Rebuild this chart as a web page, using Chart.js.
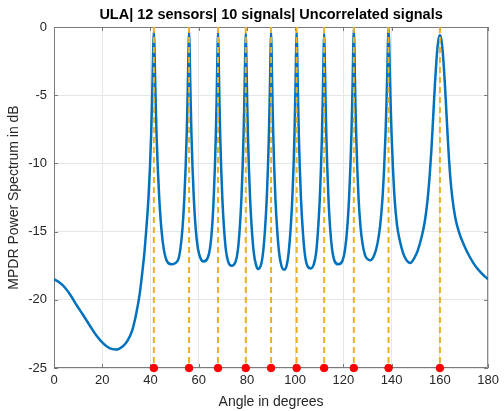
<!DOCTYPE html>
<html lang="en">
<head>
    <meta charset="UTF-8">
    <title>MPDR spectrum</title>
    <script src="https://cdn.jsdelivr.net/npm/chart.js"></script>
    <style>
        body { margin: 0; background: #fff; }
        .chart-box { width: 504px; height: 411px; }
    </style>
</head>
<body>
    <div class="chart-box">
        <canvas id="mpdrChart"></canvas>
    </div>

<script>
    // tick values for both axes
    const xTicks = [0, 20, 40, 60, 80, 100, 120, 140, 160, 180];
    const yTicks = [-25, -20, -15, -10, -5, 0];

    // true directions of arrival (degrees)
    const doaAngles = [41.4, 56, 68, 79.5, 90, 100.6, 112, 124.3, 138.7, 160];

    // spectrum: angle (deg) and power (dB), one row per peak side
    const specAngle = [
        0, 2, 4.5, 7, 9.4, 12, 14.9, 17.5, 20.4, 23, 25.6, 28.6, 30.5, 32.5, 34.1, 35.5, 36.6, 37.5, 38.28, 39.15, 39.78, 40.28, 40.65, 40.9, 41.15,
        41.4, 41.65, 41.9, 42.15, 42.52, 43.02, 43.65, 44.52, 45.52, 46.65, 48.6,
        51.38, 52.37, 53.25, 54.02, 54.57, 55.01, 55.34, 55.56, 55.78,
        56, 56.22, 56.44, 56.66, 56.99, 57.43, 57.98, 58.75, 59.63, 60.62, 61.9,
        63.8, 64.7, 65.5, 66.2, 66.7, 67.1, 67.4, 67.6, 67.8,
        68, 68.2, 68.4, 68.6, 68.9, 69.3, 69.8, 70.5, 71.3, 72.2, 73.6,
        75.3, 76.2, 77.0, 77.7, 78.2, 78.6, 78.9, 79.1, 79.3,
        79.5, 79.7, 79.9, 80.1, 80.4, 80.8, 81.3, 82.0, 82.8, 83.7, 84.6,
        85.8, 86.7, 87.5, 88.2, 88.7, 89.1, 89.4, 89.6, 89.8,
        90, 90.2, 90.4, 90.6, 90.9, 91.3, 91.8, 92.5, 93.3, 94.2, 95.4,
        96.5, 97.3, 98.1, 98.8, 99.3, 99.7, 100.0, 100.2, 100.4,
        100.6, 100.8, 101.0, 101.2, 101.5, 101.9, 102.4, 103.1, 103.9, 104.8, 106.4,
        107.8, 108.7, 109.5, 110.2, 110.7, 111.1, 111.4, 111.6, 111.8,
        112, 112.2, 112.4, 112.6, 112.9, 113.3, 113.8, 114.5, 115.3, 116.2, 117.9,
        119.68, 120.67, 121.55, 122.32, 122.87, 123.31, 123.64, 123.86, 124.08,
        124.3, 124.52, 124.74, 124.96, 125.29, 125.73, 126.28, 127.05, 127.93, 128.92, 129.9, 131.2,
        132.82, 134.08, 135.2, 136.18, 136.88, 137.44, 137.86, 138.14, 138.42,
        138.7, 138.98, 139.26, 139.54, 139.96, 140.52, 141.22, 142.2, 143.3, 144.6, 146.0, 147.7,
        149.2, 150.8, 152.4, 153.7, 154.8, 155.7, 156.4, 157.0, 157.5, 158.0, 158.5, 159.0, 159.5,
        160, 160.5, 161.0, 161.5, 162.0, 162.5, 163.0, 163.6, 164.3, 165.2, 166.4, 168.0, 170.0, 172.5, 175, 177.5, 180
    ];
    const specDb = [
        -18.5, -18.7, -19.1, -19.7, -20.4, -21.1, -21.9, -22.6, -23.2, -23.55, -23.65, -23.4, -23.0, -22.2, -21.0, -19.6, -18.0, -16.5, -14.8, -12.6, -10.3, -7.9, -5.5, -3.6, -1.5,
        -0.3, -1.5, -3.6, -5.5, -7.9, -10.3, -12.6, -14.8, -16.3, -17.1, -17.4,
        -17.1, -16.3, -14.8, -12.6, -10.3, -7.9, -5.5, -3.6, -1.5,
        -0.3, -1.5, -3.6, -5.5, -7.9, -10.3, -12.6, -14.8, -16.2, -16.9, -17.2,
        -16.9, -16.2, -14.8, -12.6, -10.3, -7.9, -5.5, -3.6, -1.6,
        -0.4, -1.6, -3.6, -5.5, -7.9, -10.3, -12.6, -14.8, -16.4, -17.2, -17.5,
        -17.2, -16.4, -14.8, -12.6, -10.3, -7.9, -5.5, -3.6, -1.7,
        -0.5, -1.7, -3.6, -5.5, -7.9, -10.3, -12.6, -14.8, -16.5, -17.4, -17.75,
        -17.45, -16.5, -14.8, -12.6, -10.3, -7.9, -5.5, -3.6, -1.6,
        -0.4, -1.6, -3.6, -5.5, -7.9, -10.3, -12.6, -14.8, -16.5, -17.45, -17.8,
        -17.45, -16.5, -14.8, -12.6, -10.3, -7.9, -5.5, -3.6, -1.6,
        -0.4, -1.6, -3.6, -5.5, -7.9, -10.3, -12.6, -14.8, -16.5, -17.4, -17.7,
        -17.35, -16.5, -14.8, -12.6, -10.3, -7.9, -5.5, -3.6, -1.7,
        -0.5, -1.7, -3.6, -5.5, -7.9, -10.3, -12.6, -14.8, -16.3, -17.1, -17.4,
        -17.1, -16.3, -14.8, -12.6, -10.3, -7.9, -5.5, -3.6, -1.35,
        -0.15, -1.35, -3.6, -5.5, -7.9, -10.3, -12.6, -14.6, -15.9, -16.7, -17.0, -17.1,
        -16.7, -15.9, -14.6, -12.6, -10.3, -7.9, -5.5, -3.6, -1.3,
        -0.1, -1.3, -3.6, -5.5, -7.9, -10.3, -12.6, -14.5, -15.6, -16.5, -17.05, -17.3,
        -17.0, -16.4, -15.4, -14.3, -12.8, -11.0, -9.2, -7.3, -5.6, -4.0, -2.6, -1.5, -0.85,
        -0.6, -0.85, -1.5, -2.6, -4.0, -5.6, -7.3, -9.2, -11.0, -12.6, -14.0, -15.1, -16.0, -16.9, -17.6, -18.1, -18.5
    ];

    const spectrum = specAngle.map((a, i) => ({x: a, y: specDb[i]}));

    // frame with inward ticks on all four sides, like the original figure
    const boxTicks = {
        id: 'boxTicks',
        beforeDatasetsDraw(chart) {
            const {ctx, chartArea: a, scales: {x, y}} = chart;
            const len = 4;
            ctx.save();
            ctx.strokeStyle = '#7a7a7a';
            ctx.lineWidth = 1;
            ctx.beginPath();
            ctx.rect(a.left + 0.5, a.top + 0.5, a.right - a.left - 1, a.bottom - a.top - 1);
            x.ticks.forEach(t => {
                const px = Math.round(x.getPixelForValue(t.value)) + 0.5;
                ctx.moveTo(px, a.bottom); ctx.lineTo(px, a.bottom - len);
                ctx.moveTo(px, a.top); ctx.lineTo(px, a.top + len);
            });
            y.ticks.forEach(t => {
                const py = Math.round(y.getPixelForValue(t.value)) + 0.5;
                ctx.moveTo(a.left, py); ctx.lineTo(a.left + len, py);
                ctx.moveTo(a.right, py); ctx.lineTo(a.right - len, py);
            });
            ctx.stroke();
            ctx.restore();
        }
    };

    const datasets = [];

    datasets.push({
        label: 'DOA',
        data: doaAngles.map(a => ({x: a, y: -25})),
        showLine: false,
        pointRadius: 3.8,
        pointBackgroundColor: '#ff0000',
        pointBorderColor: '#ff0000',
        pointBorderWidth: 1,
        clip: false,
        order: 1
    });

    doaAngles.forEach(a => {
        datasets.push({
            label: 'doa ' + a,
            data: [{x: a, y: 0}, {x: a, y: -25}],
            showLine: true,
            borderColor: '#EDB120',
            borderWidth: 2,
            borderDash: [6, 4],
            pointRadius: 0,
            order: 2
        });
    });

    datasets.push({
        label: 'MPDR',
        data: spectrum,
        showLine: true,
        borderColor: '#0072BD',
        borderWidth: 2.5,
        pointRadius: 0,
        cubicInterpolationMode: 'monotone',
        order: 3
    });

    const tickFont = {family: 'Liberation Sans, Arial, sans-serif', size: 13};
    const labelFont = {family: 'Liberation Sans, Arial, sans-serif', size: 14};

    const config = {
        type: 'scatter',
        data: {datasets: datasets},
        options: {
            responsive: true,
            maintainAspectRatio: false,
            animation: false,
            layout: {padding: {left: 0, right: 14, top: 0, bottom: 0}},
            scales: {
                x: {
                    type: 'linear',
                    min: 0,
                    max: 180,
                    afterBuildTicks: s => { s.ticks = xTicks.map(v => ({value: v})); },
                    afterFit: s => { s.height = 43; },
                    grid: {color: '#e6e6e6', drawTicks: false},
                    border: {display: false},
                    ticks: {color: '#262626', font: tickFont, padding: 5, maxRotation: 0},
                    title: {display: true, text: 'Angle in degrees', color: '#262626', font: labelFont, padding: {top: 0, bottom: 0}}
                },
                y: {
                    type: 'linear',
                    min: -25,
                    max: 0,
                    afterBuildTicks: s => { s.ticks = yTicks.map(v => ({value: v})); },
                    afterFit: s => { s.width = 54; },
                    grid: {color: '#e6e6e6', drawTicks: false},
                    border: {display: false},
                    ticks: {color: '#262626', font: tickFont, padding: 7},
                    title: {display: true, text: 'MPDR Power Spectrum in dB', color: '#262626', font: labelFont, padding: {top: 5.5, bottom: 0}}
                }
            },
            plugins: {
                legend: {display: false},
                tooltip: {enabled: false},
                title: {
                    display: true,
                    fullSize: false,
                    text: 'ULA| 12 sensors| 10 signals| Uncorrelated signals',
                    color: '#000',
                    font: {family: 'Liberation Sans, Arial, sans-serif', size: 14.5, weight: 'bold'},
                    padding: {top: 6, bottom: 3.6}
                }
            }
        },
        plugins: [boxTicks]
    };

    const ctx = document.getElementById('mpdrChart').getContext('2d');
    new Chart(ctx, config);
</script>
</body>
</html>
